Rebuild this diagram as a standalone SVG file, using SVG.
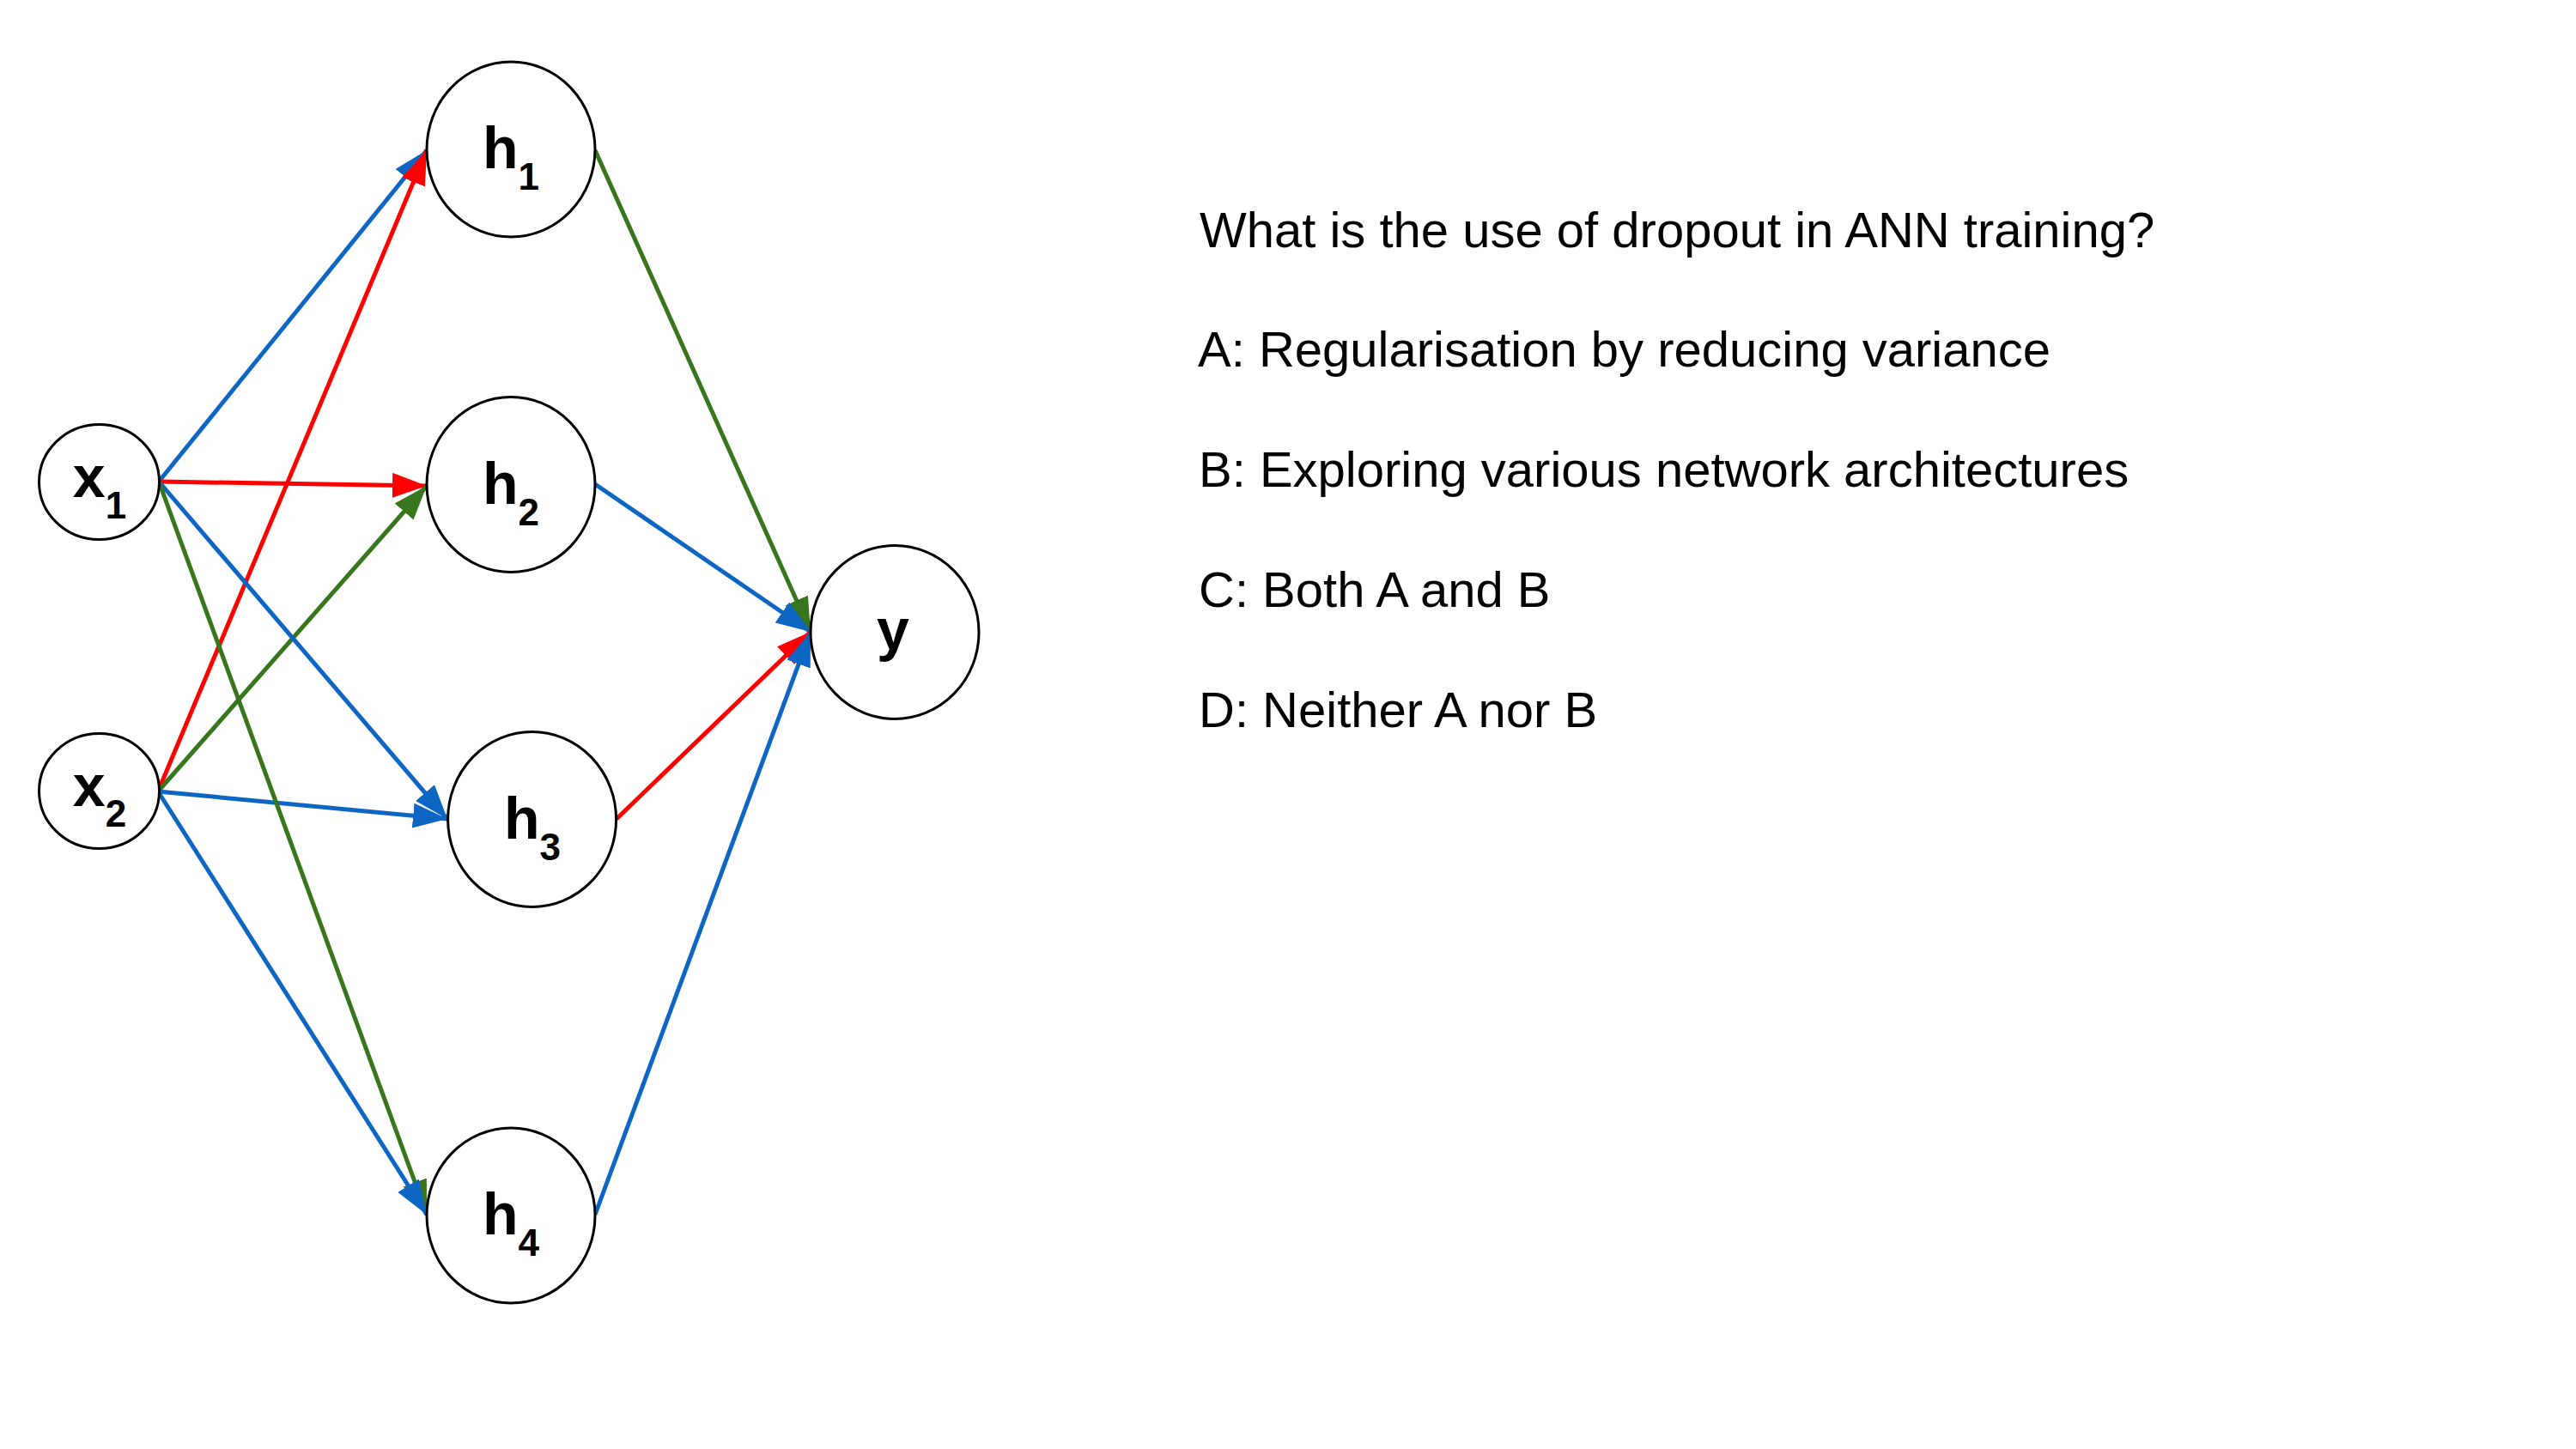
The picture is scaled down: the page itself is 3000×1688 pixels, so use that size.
<svg xmlns="http://www.w3.org/2000/svg" width="3000" height="1688" viewBox="0 0 3000 1688">
<style>
.node{fill:#fff;stroke:#000;stroke-width:3}
.lbl{font-family:"Liberation Sans",Arial,sans-serif;font-weight:bold;font-size:68px;fill:#000}
.sub{font-size:44px}
.e{fill:none;stroke-width:5}
.blue{stroke:#0d65c4}
.red{stroke:#ff0000}
.green{stroke:#38761d}
.q{font-family:"Liberation Sans",Arial,sans-serif;font-size:58px;fill:#000}
</style>
<defs>
<marker id="ab" markerUnits="userSpaceOnUse" markerWidth="40" markerHeight="29" refX="40" refY="14.5" orient="auto"><path d="M0,0 L40,14.5 L0,29 z" fill="#0d65c4"/></marker>
<marker id="ar" markerUnits="userSpaceOnUse" markerWidth="40" markerHeight="29" refX="40" refY="14.5" orient="auto"><path d="M0,0 L40,14.5 L0,29 z" fill="#ff0000"/></marker>
<marker id="ag" markerUnits="userSpaceOnUse" markerWidth="40" markerHeight="29" refX="40" refY="14.5" orient="auto"><path d="M0,0 L40,14.5 L0,29 z" fill="#38761d"/></marker>
</defs>
<rect width="3000" height="1688" fill="#fff"/>
<g id="connectors">
<path class="e blue" d="M185,561 L497,175" marker-end="url(#ab)"/>
<path class="e red" d="M184,922 L497,175" marker-end="url(#ar)"/>
<path class="e red" d="M185,561 L497,566" marker-end="url(#ar)"/>
<path class="e green" d="M184,922 L497,566" marker-end="url(#ag)"/>
<path class="e blue" d="M185,561 L521,954" marker-end="url(#ab)"/>
<path class="e blue" d="M184,922 L521,954" marker-end="url(#ab)"/>
<path class="e green" d="M185,561 L497,1415" marker-end="url(#ag)"/>
<path class="e blue" d="M184,922 L497,1415" marker-end="url(#ab)"/>
<path class="e green" d="M693,175 L944,736" marker-end="url(#ag)"/>
<path class="e blue" d="M693,564 L944,736" marker-end="url(#ab)"/>
<path class="e red" d="M718,954 L944,736" marker-end="url(#ar)"/>
<path class="e blue" d="M693,1415 L944,736" marker-end="url(#ab)"/>
</g>
<g id="x1"><ellipse class="node" cx="115.5" cy="561.5" rx="70" ry="67"/><text class="lbl" x="116" y="579" text-anchor="middle">x<tspan class="sub" dy="25">1</tspan></text></g>
<g id="x2"><ellipse class="node" cx="115.5" cy="921.5" rx="70" ry="67"/><text class="lbl" x="116" y="939" text-anchor="middle">x<tspan class="sub" dy="24">2</tspan></text></g>
<g id="h1"><ellipse class="node" cx="595" cy="174" rx="98" ry="102"/><text class="lbl" x="595" y="196" text-anchor="middle">h<tspan class="sub" dy="25">1</tspan></text></g>
<g id="h2"><ellipse class="node" cx="595" cy="564.5" rx="98" ry="102"/><text class="lbl" x="595" y="587" text-anchor="middle">h<tspan class="sub" dy="25">2</tspan></text></g>
<g id="h3"><ellipse class="node" cx="619.6" cy="954.5" rx="98" ry="102"/><text class="lbl" x="620" y="977" text-anchor="middle">h<tspan class="sub" dy="25">3</tspan></text></g>
<g id="h4"><ellipse class="node" cx="595" cy="1416" rx="98" ry="102"/><text class="lbl" x="595" y="1438" text-anchor="middle">h<tspan class="sub" dy="25">4</tspan></text></g>
<g id="y"><ellipse class="node" cx="1042" cy="736.5" rx="98" ry="101"/><text class="lbl" x="1040" y="757" text-anchor="middle">y</text></g>
<g id="question">
<text class="q" x="1397" y="287.5">What is the use of dropout in ANN training?</text>
<text class="q" x="1395" y="427">A: Regularisation by reducing variance</text>
<text class="q" x="1396" y="567">B: Exploring various network architectures</text>
<text class="q" x="1396" y="707">C: Both A and B</text>
<text class="q" x="1396" y="847">D: Neither A nor B</text>
</g>
</svg>
